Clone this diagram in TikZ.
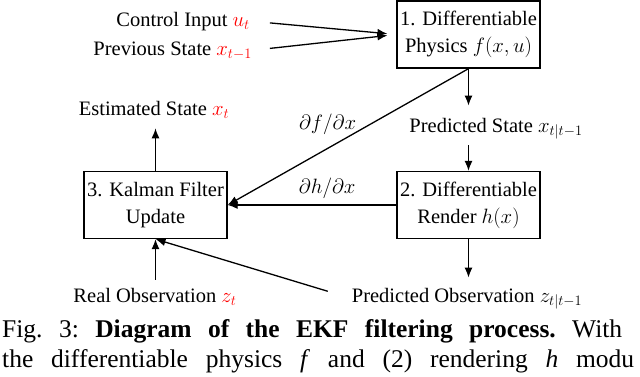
\documentclass[tikz,border=0pt]{standalone}
\usepackage{fontspec}
\setmainfont{Liberation Serif}
\usetikzlibrary{arrows.meta,positioning}

\begin{document}
\begin{tikzpicture}[x=1pt, y=-1pt,
    block/.style={rectangle, draw, line width=1.3pt, minimum width=143pt, minimum height=67pt, inner sep=2pt, align=center, font=\fontsize{20.5}{27}\selectfont},
    lbl/.style={inner sep=0pt, font=\fontsize{20.5}{24}\selectfont},
    capt/.style={inner sep=0pt, anchor=base west, font=\fontsize{25.5}{30}\selectfont\frenchspacing},
    arrow/.style={->, >={Latex[length=10pt,width=8pt]}, line width=1.3pt}]

    \useasboundingbox (0,0) rectangle (640,376);

    % Modules
    \node[block] (phys) at (468.5,34.5) {1. Differentiable\\Physics $f(x,u)$};
    \node[block] (render) at (468.5,205) {2. Differentiable\\Render $h(x)$};
    \node[block] (kalman) at (155.5,205) {3. Kalman Filter\\Update};

    % States and observations
    \node[lbl, anchor=base east] (ctrl) at (250,26) {Control Input \textcolor{red}{$u_t$}};
    \node[lbl, anchor=base east] (prev) at (252,55) {Previous State \textcolor{red}{$x_{t-1}$}};
    \node[lbl, anchor=base] (est) at (154,115) {Estimated State \textcolor{red}{$x_t$}};
    \node[lbl, anchor=base] (pstate) at (496,132) {Predicted State $x_{t|t-1}$};
    \node[lbl, anchor=base] (pobs) at (467,302) {Predicted Observation $z_{t|t-1}$};
    \node[lbl, anchor=base] (robs) at (155,302) {Real Observation \textcolor{red}{$z_t$}};

    % Connections
    \draw[arrow, shorten <=20pt, shorten >=9pt] (ctrl.east) -- (phys.west);
    \draw[arrow, shorten <=18pt, shorten >=9pt] (prev.east) -- (phys.west);
    \draw[arrow] (phys.south) -- ([yshift=12pt]phys.south |- pstate.north);
    \draw[arrow] ([yshift=-6pt]phys.south |- pstate.south) -- (render.north);
    \draw[arrow] (phys.south) -- node[lbl, pos=0.585, above=13.5pt] (dfdx) {$\partial f/\partial x$} (kalman.east);
    \draw[arrow] (render.west) -- node[lbl, pos=0.41, above=6pt] (dhdx) {$\partial h/\partial x$} (kalman.east);
    \draw[arrow] (render.south) -- ([yshift=10pt]render.south |- pobs.north);
    \draw[arrow] ([yshift=8pt]kalman.south |- robs.north) -- (kalman.south);
    \draw[arrow, shorten <=25pt] (pobs.west) -- (kalman.south);
    \draw[arrow] (kalman.north) -- ([yshift=-10pt]kalman.north |- est.south);

    % Caption
    \node[capt] (cap1) at (2,337) {\makebox[620pt][s]{Fig. 3: \textbf{Diagram of the EKF filtering process.} With}};
    \node[capt] (cap2) at (2,367) {\makebox[632pt][s]{the differentiable physics \textit{f} and (2) rendering \textit{h} modu}};
\end{tikzpicture}
\end{document}
